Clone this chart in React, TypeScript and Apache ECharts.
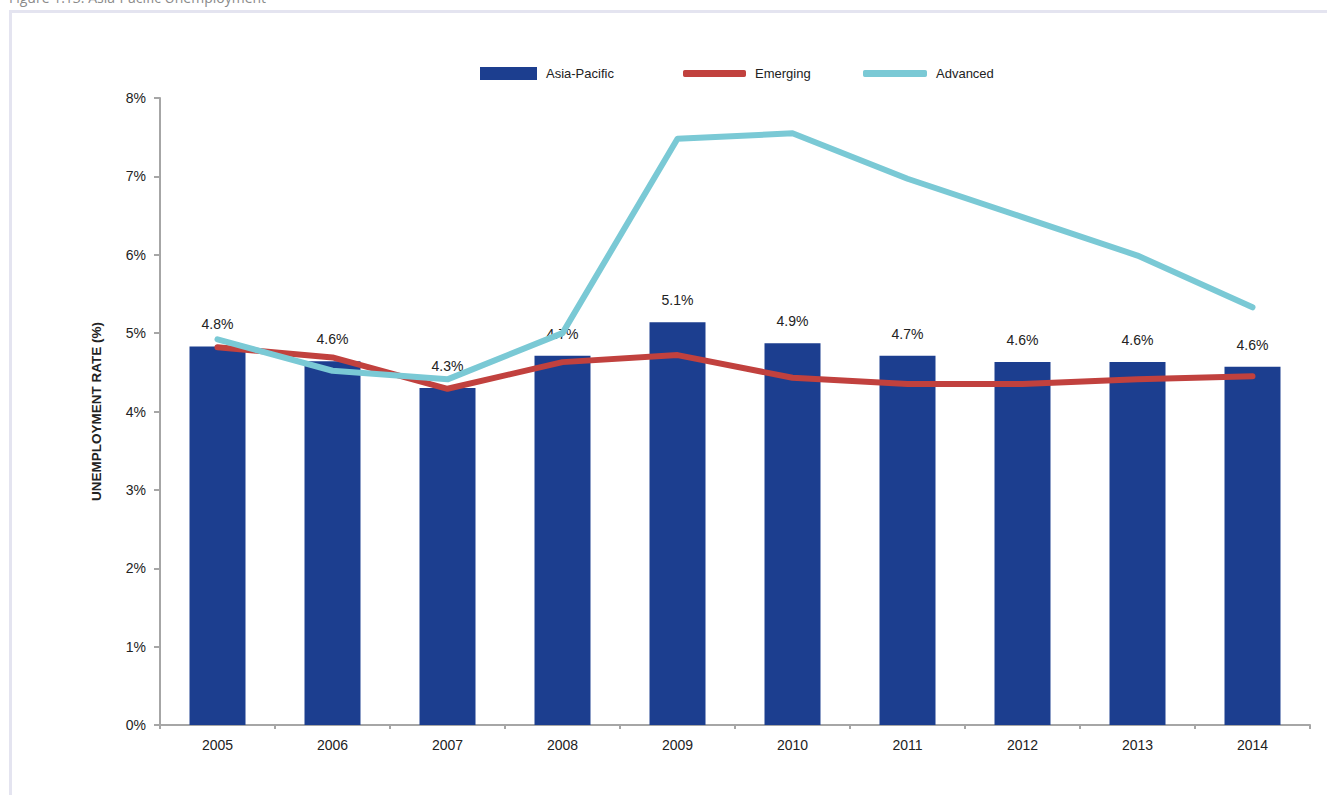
import React, { useEffect, useRef } from "react";
import * as echarts from "echarts";

const years = ["2005", "2006", "2007", "2008", "2009", "2010", "2011", "2012", "2013", "2014"];
const asiaPacific = [4.83, 4.64, 4.3, 4.71, 5.14, 4.87, 4.71, 4.63, 4.63, 4.57];
const emerging = [4.82, 4.69, 4.29, 4.63, 4.72, 4.43, 4.35, 4.35, 4.41, 4.45];
const advanced = [4.92, 4.52, 4.41, 5.0, 7.48, 7.55, 6.97, 6.48, 5.99, 5.33];
const yTicks = [0, 1, 2, 3, 4, 5, 6, 7, 8];

const FONT = "'Liberation Sans', Arial, sans-serif";

export default function App() {
  const ref = useRef<HTMLDivElement>(null);

  useEffect(() => {
    if (!ref.current) return;
    const chart = echarts.init(ref.current, undefined, { renderer: "svg" });
    const legendText = { fontSize: 13, color: "#222", fontFamily: FONT, padding: [0, 0, 0, 4] };
    chart.setOption({
      animation: false,
      backgroundColor: "transparent",
      grid: { left: 160, right: 17, top: 98, bottom: 70, containLabel: false },
      legend: [
        {
          data: ["Asia-Pacific"],
          left: 475,
          top: 62,
          icon: "rect",
          itemWidth: 57,
          itemHeight: 13,
          textStyle: legendText,
        },
        {
          data: ["Emerging"],
          left: 678,
          top: 62,
          icon: "roundRect",
          itemWidth: 63,
          itemHeight: 7,
          textStyle: legendText,
        },
        {
          data: ["Advanced"],
          left: 858,
          top: 62,
          icon: "roundRect",
          itemWidth: 64,
          itemHeight: 7,
          textStyle: legendText,
        },
      ],
      xAxis: {
        type: "category",
        data: years,
        boundaryGap: true,
        axisLine: { show: true, lineStyle: { color: "#A6A6A6", width: 2 } },
        axisTick: { show: true, alignWithLabel: false, length: 4, lineStyle: { color: "#A6A6A6", width: 2 } },
        axisLabel: { margin: 13, fontSize: 14, color: "#222", fontFamily: FONT },
        splitLine: { show: false },
      },
      yAxis: {
        type: "value",
        min: yTicks[0],
        max: yTicks[yTicks.length - 1],
        interval: 1,
        name: "UNEMPLOYMENT RATE (%)",
        nameLocation: "middle",
        nameGap: 57,
        nameRotate: 90,
        nameTextStyle: { fontSize: 13.5, fontWeight: "bold", color: "#222", fontFamily: FONT },
        axisLine: { show: true, lineStyle: { color: "#A6A6A6", width: 2 } },
        axisTick: { show: true, length: 6, lineStyle: { color: "#A6A6A6", width: 2 } },
        axisLabel: {
          margin: 14,
          fontSize: 14,
          color: "#222",
          fontFamily: FONT,
          formatter: (v: number) => `${v}%`,
        },
        splitLine: { show: false },
      },
      series: [
        {
          name: "Asia-Pacific",
          type: "bar",
          data: asiaPacific,
          barWidth: 56,
          itemStyle: { color: "#1C3E8F" },
          label: {
            show: true,
            position: "top",
            distance: 15,
            fontSize: 14,
            color: "#222",
            fontFamily: FONT,
            formatter: (p: any) => `${Number(p.value).toFixed(1)}%`,
          },
          z: 1,
        },
        {
          name: "Emerging",
          type: "line",
          data: emerging,
          symbol: "none",
          itemStyle: { color: "#C1413E" },
          lineStyle: { color: "#C1413E", width: 6, cap: "round", join: "round" },
          z: 3,
        },
        {
          name: "Advanced",
          type: "line",
          data: advanced,
          symbol: "none",
          itemStyle: { color: "#7AC9D5" },
          lineStyle: { color: "#7AC9D5", width: 6, cap: "round", join: "round" },
          z: 4,
        },
      ],
    });
    return () => chart.dispose();
  }, []);

  return (
    <div
      style={{
        position: "fixed",
        left: 0,
        top: 0,
        width: 1327,
        height: 795,
        overflow: "hidden",
        background: "#fff",
      }}
    >
      <div
        style={{
          position: "absolute",
          left: 9,
          top: -12,
          fontFamily: "'Open Sans', sans-serif",
          fontSize: 14,
          color: "#8a8a8a",
          whiteSpace: "nowrap",
        }}
      >
        Figure 1.13: Asia-Pacific Unemployment
      </div>
      <div
        style={{
          position: "absolute",
          left: 9,
          top: 10,
          width: 1400,
          height: 900,
          border: "3px solid #E4E4F0",
          boxSizing: "border-box",
        }}
      />
      <div ref={ref} style={{ position: "absolute", left: 0, top: 0, width: 1327, height: 795 }} />
    </div>
  );
}
